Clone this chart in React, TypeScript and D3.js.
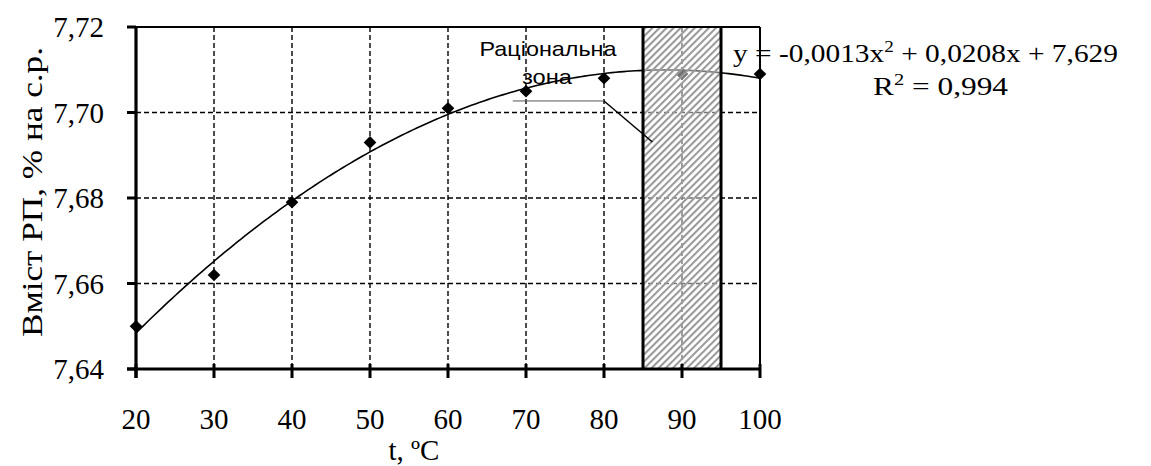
import React from "react";
import * as d3 from "d3";

// temperature, °C
const temps = [20, 30, 40, 50, 60, 70, 80, 90, 100];
// content of RP, % on dry matter
const content = [7.65, 7.662, 7.679, 7.693, 7.701, 7.705, 7.708, 7.709, 7.709];

const xTicks = [20, 30, 40, 50, 60, 70, 80, 90, 100];
const yTicks = [7.64, 7.66, 7.68, 7.7, 7.72];
const zone = [85, 95];

const yTitle = "Вміст РП, % на с.р.";
const xTitle = "t, ºC";
const zoneLabel = ["Раціональна", "зона"];
const eqParts = ["y = -0,0013x", "2", " + 0,0208x + 7,629"];
const r2Parts = ["R", "2", " = 0,994"];

const W = 1151;
const H = 466;
const margin = { top: 27, right: 391, bottom: 97, left: 136 };
const font = '"Liberation Serif", "Times New Roman", Times, serif';
const sans = '"Liberation Sans", Arial, sans-serif';

const fmt = d3.formatLocale({ decimal: ",", thousands: " ", grouping: [3], currency: ["", ""] }).format(".2f");

// quadratic least-squares trend (like Excel's polynomial trendline)
function polyFit(xs: number[], ys: number[]) {
  const s = (p: number, q = 0) => d3.sum(xs, (x, i) => Math.pow(x, p) * Math.pow(ys[i], q));
  const A = [
    [s(4), s(3), s(2), s(2, 1)],
    [s(3), s(2), s(1), s(1, 1)],
    [s(2), s(1), xs.length, s(0, 1)],
  ];
  for (let i = 0; i < 3; i++) {
    for (let k = i + 1; k < 3; k++) {
      const f = A[k][i] / A[i][i];
      for (let j = i; j < 4; j++) A[k][j] -= f * A[i][j];
    }
  }
  const c = [0, 0, 0];
  for (let i = 2; i >= 0; i--) {
    let v = A[i][3];
    for (let j = i + 1; j < 3; j++) v -= A[i][j] * c[j];
    c[i] = v / A[i][i];
  }
  return (x: number) => c[0] * x * x + c[1] * x + c[2];
}

export default function App() {
  const x = d3.scaleLinear().domain([20, 100]).range([margin.left, W - margin.right]);
  const y = d3.scaleLinear().domain([7.64, 7.72]).range([H - margin.bottom, margin.top]);
  const [x0, x1] = x.range();
  const [y0, y1] = y.range();

  const trend = polyFit(temps, content);
  const trendPts = d3.range(20, 100.01, 0.5).map((t) => [t, trend(t)] as [number, number]);
  const line = d3.line<[number, number]>().x((d) => x(d[0])).y((d) => y(d[1]));
  const diamond = d3.symbol(d3.symbolSquare, 80)();

  // callout of the zone label (data units)
  const callout = { xa: 68.3, xb: 80, xc: 86.2, ya: 7.7027, yc: 7.6931 };

  return (
    <svg width={W} height={H} style={{ position: "absolute", left: 0, top: 0, background: "#fff", fontFamily: font }}>
      <defs>
        <pattern id="hatch" width="5" height="5" patternUnits="userSpaceOnUse" patternTransform="rotate(45)">
          <line x1="1" y1="0" x2="1" y2="5" stroke="#9a9a9a" strokeWidth="2.2" />
        </pattern>
      </defs>

      {/* grid */}
      {yTicks.slice(1, -1).map((v) => (
        <line key={"gy" + v} x1={x0} x2={x1} y1={y(v)} y2={y(v)} stroke="#000" strokeWidth={1.4} strokeDasharray="5,3" />
      ))}
      {xTicks.slice(1, -1).map((v) => (
        <line key={"gx" + v} x1={x(v)} x2={x(v)} y1={y1} y2={y0} stroke="#000" strokeWidth={1.4} strokeDasharray="5,3" />
      ))}

      {/* trendline */}
      <path d={line(trendPts) || ""} fill="none" stroke="#000" strokeWidth={1.6} />

      {/* points */}
      {temps.map((t, i) => (
        <path key={"p" + t} d={diamond || ""} transform={`translate(${x(t)},${y(content[i])}) rotate(45)`} fill="#000" />
      ))}

      {/* rational zone */}
      <rect x={x(zone[0])} y={y1} width={x(zone[1]) - x(zone[0])} height={y0 - y1} fill="#fff" opacity={0.45} />
      <rect x={x(zone[0])} y={y1} width={x(zone[1]) - x(zone[0])} height={y0 - y1} fill="url(#hatch)" />
      {zone.map((z) => (
        <line key={"z" + z} x1={x(z)} x2={x(z)} y1={y1} y2={y0} stroke="#000" strokeWidth={3} />
      ))}

      {/* frame */}
      <line x1={x0 - 9} x2={x1} y1={y1} y2={y1} stroke="#000" strokeWidth={2} />
      <line x1={x1} x2={x1} y1={y1} y2={y0} stroke="#000" strokeWidth={2} />
      <line x1={x0} x2={x0} y1={y1 - 1} y2={y0 + 9} stroke="#000" strokeWidth={3.2} />
      <line x1={x0 - 9} x2={x1 + 1} y1={y0} y2={y0} stroke="#000" strokeWidth={3.2} />

      {/* y axis */}
      {yTicks.map((v) => (
        <g key={"yt" + v}>
          <line x1={x0 - 9} x2={x0} y1={y(v)} y2={y(v)} stroke="#000" strokeWidth={3} />
          <text x={104} y={y(v) + 10} textAnchor="end" fontSize={29}>
            {fmt(v)}
          </text>
        </g>
      ))}

      {/* x axis */}
      {xTicks.map((v) => (
        <g key={"xt" + v}>
          <line x1={x(v)} x2={x(v)} y1={y0 - 5} y2={y0 + 9} stroke="#000" strokeWidth={3} />
          <text x={x(v)} y={429} textAnchor="middle" fontSize={29}>
            {v}
          </text>
        </g>
      ))}

      <text x={414} y={460} textAnchor="middle" fontSize={29}>
        {xTitle}
      </text>
      <text transform="translate(42,192) rotate(-90)" textAnchor="middle" fontSize={30} textLength={290} lengthAdjust="spacingAndGlyphs">
        {yTitle}
      </text>

      {/* zone label and callout */}
      <text x={548} y={56} textAnchor="middle" fontSize={21} fontFamily={sans} textLength={137} lengthAdjust="spacingAndGlyphs">
        {zoneLabel[0]}
      </text>
      <text x={547} y={84} textAnchor="middle" fontSize={21} fontFamily={sans} textLength={50} lengthAdjust="spacingAndGlyphs">
        {zoneLabel[1]}
      </text>
      <line x1={x(callout.xa)} x2={x(callout.xb)} y1={y(callout.ya)} y2={y(callout.ya)} stroke="#555" strokeWidth={1} />
      <line x1={x(callout.xb)} x2={x(callout.xc)} y1={y(callout.ya)} y2={y(callout.yc)} stroke="#000" strokeWidth={1.5} />

      {/* equation */}
      <text x={733} y={62} fontSize={26} textLength={385} lengthAdjust="spacingAndGlyphs">
        {eqParts[0]}
        <tspan fontSize={17} dy={-10}>{eqParts[1]}</tspan>
        <tspan dy={10}>{eqParts[2]}</tspan>
      </text>
      <text x={873} y={95} fontSize={26} textLength={135} lengthAdjust="spacingAndGlyphs">
        {r2Parts[0]}
        <tspan fontSize={17} dy={-10}>{r2Parts[1]}</tspan>
        <tspan dy={10}>{r2Parts[2]}</tspan>
      </text>
    </svg>
  );
}
